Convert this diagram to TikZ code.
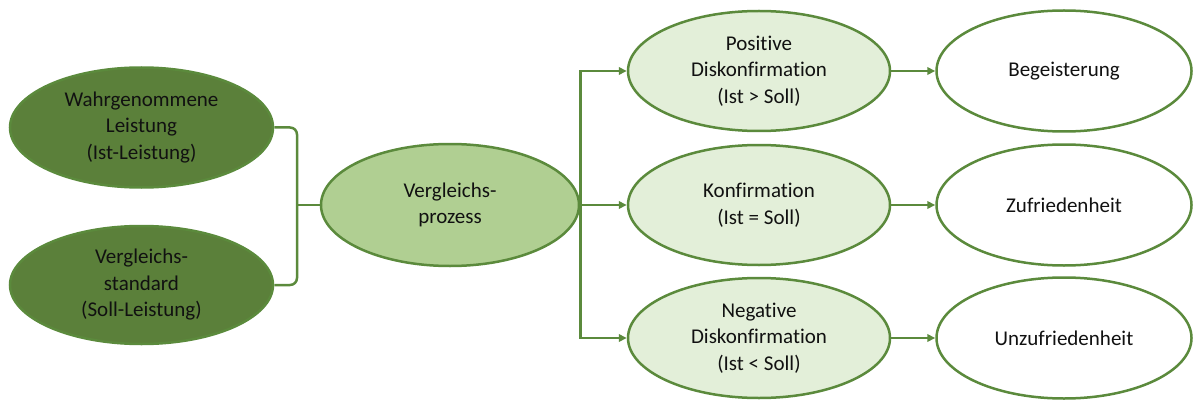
\documentclass[tikz,border=0pt]{standalone}
\usepackage{fontspec}
\setmainfont{Carlito}[Ligatures=NoCommon]
\usetikzlibrary{shapes.geometric,arrows.meta}
\definecolor{edgegreen}{HTML}{5B8A3C}
\definecolor{darkfill}{HTML}{5B803A}
\definecolor{midfill}{HTML}{B0CF92}
\definecolor{lightfill}{HTML}{E3EFD9}
\definecolor{txt}{HTML}{111111}
\tikzset{
  ell/.style={ellipse, draw=edgegreen, line width=2.5pt, inner sep=0pt, align=center,
    font=\fontsize{21pt}{26.5pt}\selectfont, text=txt},
  darkell/.style={ell, fill=darkfill, minimum width=263pt, minimum height=120pt},
  centerell/.style={ell, fill=midfill, minimum width=258pt, minimum height=122pt},
  lightell/.style={ell, fill=lightfill, minimum width=262pt, minimum height=120pt},
  whiteell/.style={ell, fill=white, minimum width=255pt, minimum height=121pt},
  conn/.style={draw=edgegreen, line width=2.5pt},
  arr/.style={conn, -{Triangle[length=8pt,width=7.5pt]}}
}
\begin{document}
\begin{tikzpicture}[x=1pt,y=1pt]
\useasboundingbox (0,0) rectangle (1196,-401);
\node[darkell] (L1) at (141.5,-127.5) {Wahrgenommene\\Leistung\\(Ist-Leistung)};
\node[darkell, minimum height=118pt] (L2) at (141.5,-285) {Vergleichs-\\standard\\(Soll-Leistung)};
\node[centerell] (C) at (450,-205) {Vergleichs-\\prozess};
\node[lightell] (P) at (759,-71) {Positive\\Diskonfirmation\\(Ist > Soll)};
\node[lightell] (K) at (759,-205) {Konfirmation\\(Ist = Soll)};
\node[lightell] (N) at (759,-338) {Negative\\Diskonfirmation\\(Ist < Soll)};
\node[whiteell] (R1) at (1064,-71) {Begeisterung};
\node[whiteell] (R2) at (1064,-205) {Zufriedenheit};
\node[whiteell] (R3) at (1064,-338) {Unzufriedenheit};
\coordinate (B) at (297,-205);
\draw[conn, rounded corners=7pt] (L1.east) -| (B) |- (L2.east);
\draw[conn] (B) -- (C.west);
\draw[arr] (C.east) |- (P.west);
\draw[arr] (C.east) -- (K.west);
\draw[arr] (C.east) |- (N.west);
\draw[arr] (P.east) -- (R1.west);
\draw[arr] (K.east) -- (R2.west);
\draw[arr] (N.east) -- (R3.west);
\end{tikzpicture}
\end{document}
